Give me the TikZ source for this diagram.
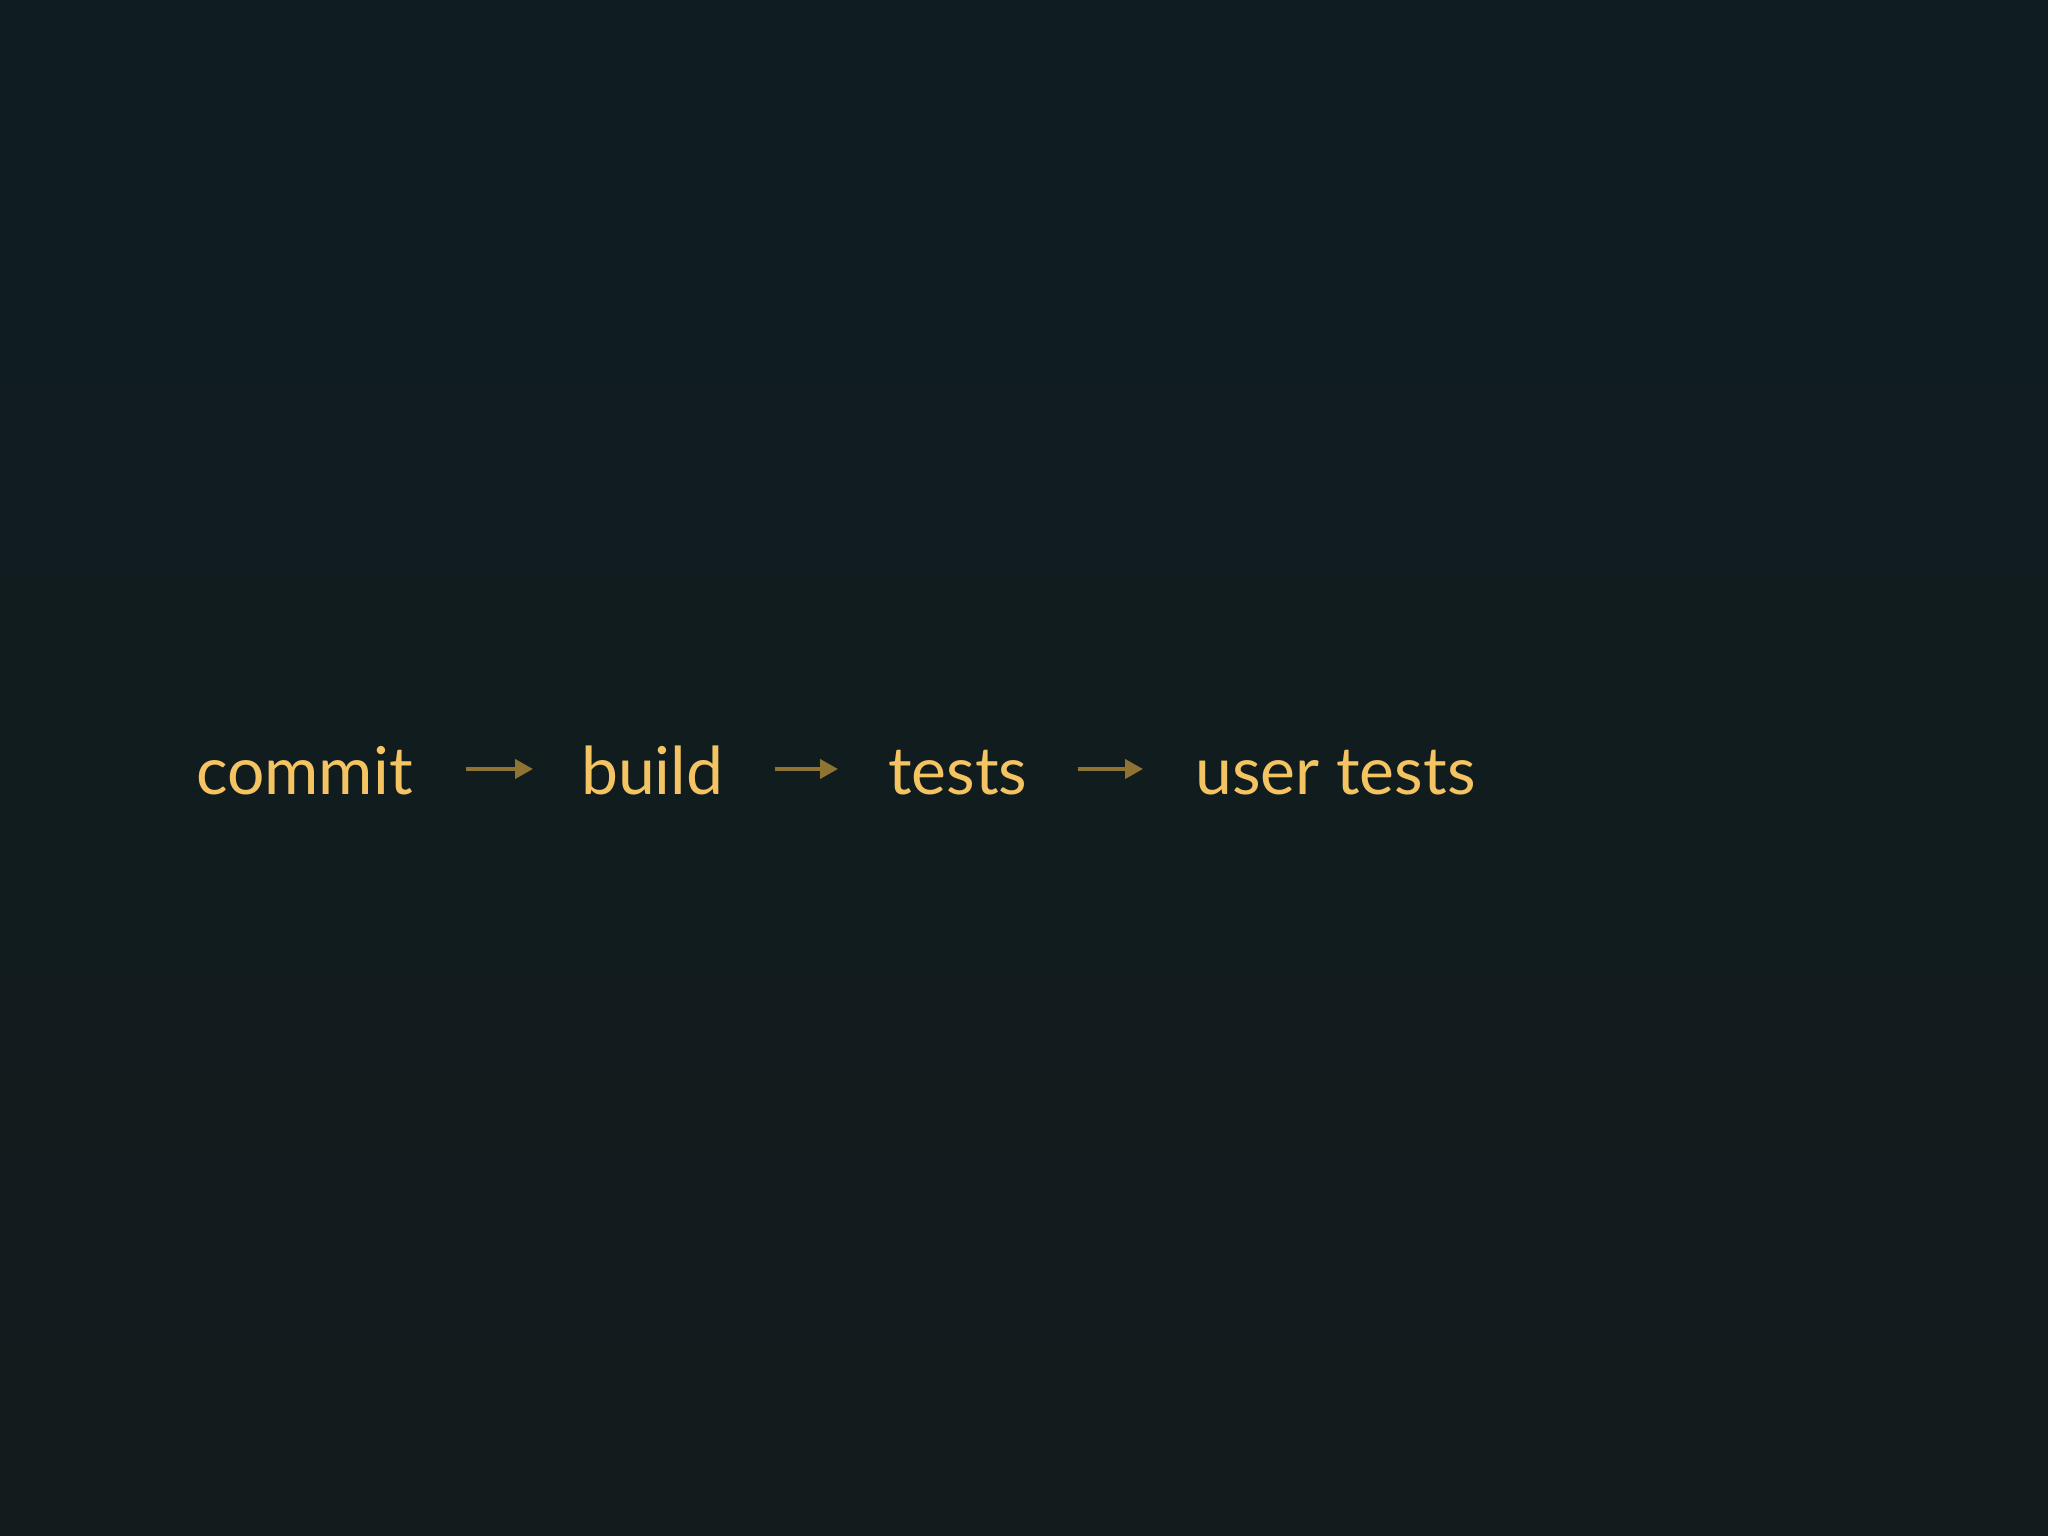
\documentclass[tikz,border=0pt]{standalone}
\usepackage{fontspec}
\setmainfont{Lato}
\usetikzlibrary{arrows.meta}
\definecolor{bgtop}{HTML}{0F1D21}
\definecolor{bgbot}{HTML}{131B1C}
\definecolor{gold}{HTML}{F5C462}
\definecolor{arrowgold}{HTML}{8E7333}
\tikzset{
  word/.style={anchor=base west, inner sep=0pt, text=gold, font=\fontsize{66}{70}\selectfont},
  flow/.style={draw=arrowgold, line width=4pt, -{Triangle[length=18pt,width=19pt]}}
}
\begin{document}
\begin{tikzpicture}[x=1pt,y=1pt]
\shade[top color=bgtop, bottom color=bgbot] (0,0) rectangle (2048,1536);
\useasboundingbox (0,0) rectangle (2048,1536);
\node[word] (commit) at (196,741) {commit};
\node[word] (build) at (581,741) {build};
\node[word] (tests) at (888,741) {tests};
\node[word] (usertests) at (1195,741) {user tests};
\draw[flow, shorten <=53pt, shorten >=48pt] ([yshift=26pt]commit.base east) -- ([yshift=26pt]build.base west);
\draw[flow, shorten <=51pt, shorten >=50pt] ([yshift=26pt]build.base east) -- ([yshift=26pt]tests.base west);
\draw[flow, shorten <=50pt, shorten >=52pt] ([yshift=26pt]tests.base east) -- ([yshift=26pt]usertests.base west);
\end{tikzpicture}
\end{document}
